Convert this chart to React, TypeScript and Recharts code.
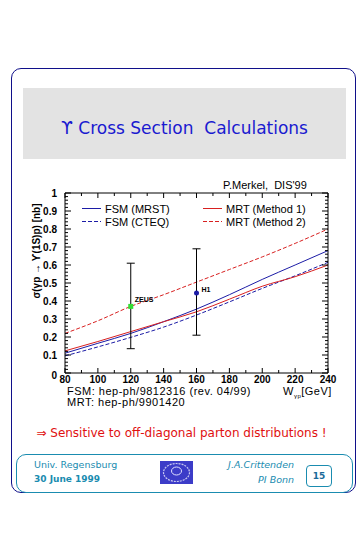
import {
  ComposedChart,
  ErrorBar,
  Legend,
  Line,
  Scatter,
  XAxis,
  YAxis,
} from 'recharts';

// W_gamma-p [GeV] grid where the curves were read
const W_VALUES = [80, 100, 120, 140, 160, 180, 200, 220, 240];
const FSM_MRST = [0.11, 0.165, 0.22, 0.285, 0.355, 0.435, 0.52, 0.6, 0.68];
const FSM_CTEQ = [0.095, 0.145, 0.198, 0.255, 0.322, 0.395, 0.47, 0.54, 0.615];
const MRT_M1 = [0.123, 0.175, 0.23, 0.285, 0.34, 0.41, 0.482, 0.535, 0.6];
const MRT_M2 = [0.22, 0.29, 0.37, 0.435, 0.505, 0.575, 0.645, 0.72, 0.8];

// measurements
const ZEUS = [{ w: 120, sigma: 0.37, err: [0.235, 0.24] }];
const H1 = [{ w: 160, sigma: 0.445, err: [0.235, 0.245] }];

const X_TICKS = [80, 90, 100, 110, 120, 130, 140, 150, 160, 170, 180, 190, 200, 210, 220, 230, 240];
const X_LABELS = ['80', '100', '120', '140', '160', '180', '200', '220', '240'];
const Y_LABELS = ['0', '0.1', '0.2', '0.3', '0.4', '0.5', '0.6', '0.7', '0.8', '0.9', '1'];
const Y_TICKS = Array.from({ length: 51 }, (_, i) => Math.round(i * 2) / 100);

const BLUE = '#1c1ca6';
const RED = '#d82020';
const TEAL = '#1a8cb0';
const TICK_FONT = '"Liberation Sans", Arial, sans-serif';

const SERIES = [
  { key: 'mrst', name: 'FSM (MRST)', color: BLUE, dash: undefined },
  { key: 'cteq', name: 'FSM (CTEQ)', color: BLUE, dash: '4 2' },
  { key: 'm1', name: 'MRT (Method 1)', color: RED, dash: undefined },
  { key: 'm2', name: 'MRT (Method 2)', color: RED, dash: '4 2' },
];

const data = W_VALUES.map((w, i) => ({
  w,
  mrst: FSM_MRST[i],
  cteq: FSM_CTEQ[i],
  m1: MRT_M1[i],
  m2: MRT_M2[i],
}));

const isMajorY = (v: number) => Math.abs(v * 10 - Math.round(v * 10)) < 1e-6;

function BottomTick({ x, y, payload }: any) {
  const label = X_LABELS.find((l) => Number(l) === payload.value);
  return (
    <g>
      <line x1={x} x2={x} y1={y} y2={y - (label ? 5 : 3)} stroke="#000" />
      {label && (
        <text x={x} y={y + 10} textAnchor="middle" fontSize={10} fontWeight="bold" fontFamily={TICK_FONT} fill="#000">
          {label}
        </text>
      )}
    </g>
  );
}

function TopTick({ x, y, payload }: any) {
  const major = X_LABELS.some((l) => Number(l) === payload.value);
  return <line x1={x} x2={x} y1={y} y2={y + (major ? 5 : 3)} stroke="#000" />;
}

function LeftTick({ x, y, payload }: any) {
  const major = isMajorY(payload.value);
  const label = major ? Y_LABELS[Math.round(payload.value * 10)] : null;
  return (
    <g>
      <line x1={x} x2={x + (major ? 6 : 3)} y1={y} y2={y} stroke="#000" />
      {label && (
        <text
          x={x - 8}
          y={y + (label === '0' ? 6 : 4)}
          textAnchor="end"
          fontSize={10}
          fontWeight="bold"
          fontFamily={TICK_FONT}
          fill="#000"
        >
          {label}
        </text>
      )}
    </g>
  );
}

function RightTick({ x, y, payload }: any) {
  const major = isMajorY(payload.value);
  return <line x1={x} x2={x - (major ? 6 : 3)} y1={y} y2={y} stroke="#000" />;
}

function YTitle({ viewBox }: any) {
  const cx = viewBox.x + viewBox.width - 25;
  const cy = viewBox.y + 58;
  return (
    <text
      x={cx}
      y={cy}
      transform={`rotate(-90 ${cx} ${cy})`}
      textAnchor="middle"
      fontSize={10}
      fontWeight="bold"
      fontFamily={TICK_FONT}
      fill="#000"
    >
      σ(γp → ϒ(1S)p) [nb]
    </text>
  );
}

function ZeusMark({ cx, cy }: any) {
  return (
    <g>
      <rect x={cx - 2.5} y={cy - 2.5} width={5} height={5} fill="#33dd33" />
      <text x={cx + 4} y={cy - 4} fontSize={7} fontWeight="bold" fontFamily={TICK_FONT} fill="#000">
        ZEUS
      </text>
    </g>
  );
}

function H1Mark({ cx, cy }: any) {
  return (
    <g>
      <circle cx={cx} cy={cy} r={2.5} fill={BLUE} />
      <text x={cx + 5} y={cy - 1} fontSize={7} fontWeight="bold" fontFamily={TICK_FONT} fill="#000">
        H1
      </text>
    </g>
  );
}

function LegendBox() {
  return (
    <div style={{ position: 'relative', width: 240, height: 28 }}>
      {SERIES.map((s, i) => (
        <div
          key={s.key}
          style={{
            position: 'absolute',
            left: i < 2 ? 0 : 121,
            top: (i % 2) * 13,
            display: 'flex',
            alignItems: 'center',
            height: 13,
            fontFamily: TICK_FONT,
            fontSize: 11,
            color: '#000',
            whiteSpace: 'nowrap',
          }}
        >
          <svg width={20} height={13} style={{ marginRight: 3 }}>
            <line x1={0} x2={19} y1={6.5} y2={6.5} stroke={s.color} strokeWidth={1} strokeDasharray={s.dash} />
          </svg>
          {s.name}
        </div>
      ))}
    </div>
  );
}

const abs = (left: number, top: number, extra: any = {}) => ({
  position: 'absolute' as const,
  left,
  top,
  ...extra,
});

const refText = {
  fontFamily: TICK_FONT,
  fontSize: 11,
  lineHeight: '11px',
  letterSpacing: 0.5,
  color: '#000',
  whiteSpace: 'pre',
};

export default function App() {
  return (
    <div
      style={{
        position: 'absolute',
        left: 0,
        top: 0,
        width: 363,
        height: 535,
        background: '#fff',
        overflow: 'hidden',
        fontFamily: '"DejaVu Sans", Verdana, sans-serif',
      }}
    >
      <div style={abs(11, 68, { width: 343, height: 423, border: '1.5px solid #10108a', borderRadius: 10 })} />
      <div style={abs(23, 88, { width: 323, height: 71, background: '#e3e3e3' })} />
      <div
        style={abs(23, 92, {
          width: 323,
          height: 71,
          display: 'flex',
          alignItems: 'center',
          justifyContent: 'center',
          color: '#1a1ad0',
          fontSize: 17,
          whiteSpace: 'pre',
        })}
      >
        ϒ Cross Section  Calculations
      </div>

      <div style={abs(223, 179, { fontFamily: TICK_FONT, fontSize: 11, whiteSpace: 'pre', color: '#000' })}>
        P.Merkel,  DIS'99
      </div>

      <div style={abs(0, 0)}>
        <ComposedChart
          width={363}
          height={420}
          data={data}
          margin={{ top: 192, right: 34, bottom: 46, left: 64 }}
        >
          <XAxis
            dataKey="w"
            type="number"
            domain={[80, 240]}
            ticks={X_TICKS}
            interval={0}
            height={1}
            tickSize={0}
            tickMargin={0}
            tickLine={false}
            tick={BottomTick}
            stroke="#000"
            allowDataOverflow
          />
          <XAxis
            xAxisId="top"
            orientation="top"
            dataKey="w"
            type="number"
            domain={[80, 240]}
            ticks={X_TICKS}
            interval={0}
            height={1}
            tickSize={0}
            tickMargin={0}
            tickLine={false}
            tick={TopTick}
            stroke="#000"
            allowDataOverflow
          />
          <YAxis
            type="number"
            domain={[0, 1]}
            ticks={Y_TICKS}
            interval={0}
            width={1}
            tickSize={0}
            tickMargin={0}
            tickLine={false}
            tick={LeftTick}
            stroke="#000"
            allowDataOverflow
            label={{ content: YTitle }}
          />
          <YAxis
            yAxisId="right"
            orientation="right"
            type="number"
            domain={[0, 1]}
            ticks={Y_TICKS}
            interval={0}
            width={1}
            tickSize={0}
            tickMargin={0}
            tickLine={false}
            tick={RightTick}
            stroke="#000"
            allowDataOverflow
          />
          <Legend
            layout="horizontal"
            verticalAlign="middle"
            align="center"
            wrapperStyle={{ left: 82, top: 202, width: 240, height: 28 }}
            content={LegendBox}
          />
          {SERIES.map((s) => (
            <Line
              key={s.key}
              type="monotone"
              dataKey={s.key}
              name={s.name}
              stroke={s.color}
              strokeWidth={1}
              strokeDasharray={s.dash}
              dot={false}
              activeDot={false}
              isAnimationActive={false}
            />
          ))}
          <Scatter data={ZEUS} dataKey="sigma" shape={ZeusMark} isAnimationActive={false} legendType="none">
            <ErrorBar dataKey="err" direction="y" width={4} stroke="#000" strokeWidth={1} isAnimationActive={false} />
          </Scatter>
          <Scatter data={H1} dataKey="sigma" shape={H1Mark} isAnimationActive={false} legendType="none">
            <ErrorBar dataKey="err" direction="y" width={4} stroke="#000" strokeWidth={1} isAnimationActive={false} />
          </Scatter>
        </ComposedChart>
      </div>

      <div style={abs(67, 386, refText)}>FSM: hep-ph/9812316 (rev. 04/99)</div>
      <div style={abs(67, 397, refText)}>MRT: hep-ph/9901420</div>
      <div style={abs(283, 386, refText)}>
        W<sub style={{ fontSize: 6, lineHeight: '6px' }}>γp</sub>[GeV]
      </div>

      <div style={abs(0, 426, { width: 363, textAlign: 'center', color: '#e01010', fontSize: 12, whiteSpace: 'pre' })}>
        ⇒ Sensitive to off-diagonal parton distributions !
      </div>

      <div style={abs(16, 454, { width: 335, height: 37, border: `1.2px solid ${TEAL}`, borderRadius: 10 })} />
      <div style={abs(34, 459, { color: TEAL, fontSize: 9.5 })}>Univ. Regensburg</div>
      <div style={abs(34, 474, { color: TEAL, fontSize: 9, fontWeight: 'bold' })}>30 June 1999</div>
      <div style={abs(160, 461, { width: 33, height: 23, background: '#3c3cc8', overflow: 'hidden' })}>
        <svg width={33} height={23}>
          <ellipse cx={16.5} cy={11.5} rx={13} ry={9} fill="none" stroke="#c8c8f0" strokeWidth={1.2} strokeDasharray="2 1" />
          <ellipse cx={16.5} cy={10} rx={5} ry={4} fill="none" stroke="#e0e0ff" strokeWidth={1} />
        </svg>
      </div>
      <div style={abs(180, 459, { width: 114, textAlign: 'right', color: TEAL, fontSize: 9.5, fontStyle: 'italic' })}>
        J.A.Crittenden
      </div>
      <div style={abs(180, 474, { width: 114, textAlign: 'right', color: TEAL, fontSize: 9.5, fontStyle: 'italic' })}>
        PI Bonn
      </div>
      <div
        style={abs(306, 465, {
          width: 24,
          height: 20,
          border: `1px solid ${TEAL}`,
          borderRadius: 4,
          display: 'flex',
          alignItems: 'center',
          justifyContent: 'center',
          color: '#1a6a98',
          fontSize: 9,
          fontWeight: 'bold',
        })}
      >
        15
      </div>
    </div>
  );
}
